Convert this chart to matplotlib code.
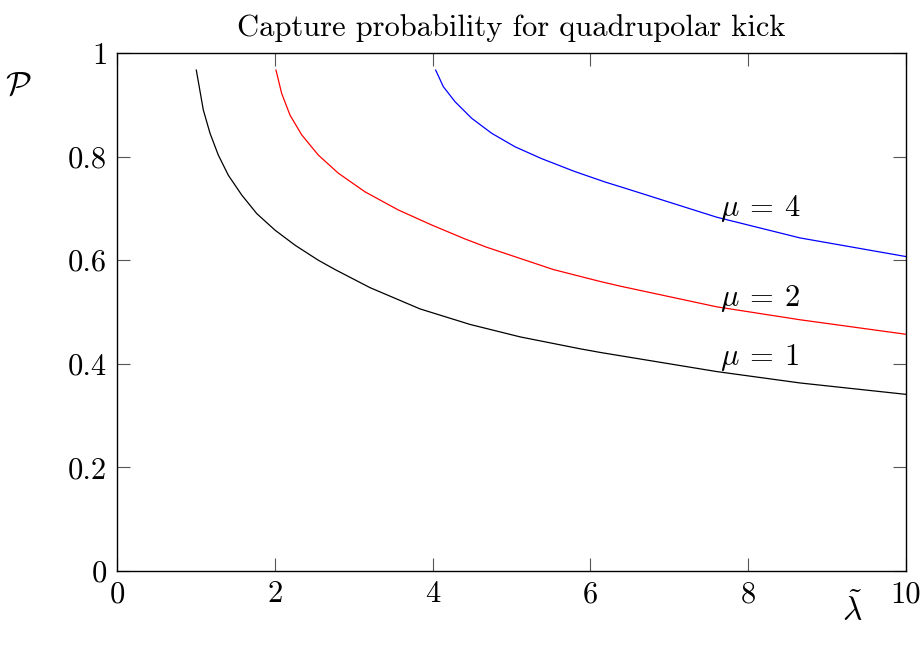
import matplotlib
matplotlib.use("Agg")
import matplotlib.pyplot as plt

# values
lam_mu1 = [1.005, 1.094, 1.179, 1.284, 1.411, 1.580, 1.771, 2.003, 2.256, 2.551, 2.763,
           3.207, 3.840, 4.474, 5.108, 5.868, 6.122, 7.601, 8.657, 10.0]
p_mu1 = [0.967, 0.890, 0.845, 0.803, 0.764, 0.726, 0.690, 0.658, 0.629, 0.600, 0.582,
         0.547, 0.506, 0.476, 0.452, 0.429, 0.422, 0.385, 0.363, 0.341]

lam_mu2 = [2.015, 2.087, 2.193, 2.341, 2.551, 2.805, 3.143, 3.565, 3.988, 4.411, 4.686,
           5.530, 6.122, 6.375, 7.601, 8.657, 10.0]
p_mu2 = [0.967, 0.922, 0.880, 0.842, 0.803, 0.768, 0.732, 0.697, 0.668, 0.641, 0.625,
         0.582, 0.559, 0.550, 0.510, 0.485, 0.457]

lam_mu4 = [4.039, 4.136, 4.284, 4.495, 4.749, 5.044, 5.383, 5.805, 6.185, 6.439, 7.601, 8.657, 10.0]
p_mu4 = [0.967, 0.935, 0.906, 0.874, 0.845, 0.819, 0.796, 0.771, 0.751, 0.739, 0.683, 0.643, 0.607]

xticks = [0, 2, 4, 6, 8, 10]
xtick_labels = ["0", "2", "4", "6", "8", "10"]
yticks = [0, 0.2, 0.4, 0.6, 0.8, 1]
ytick_labels = ["0", "0.2", "0.4", "0.6", "0.8", "1"]

curve_labels = [r"$\mu\:=\:1$", r"$\mu\:=\:2$", r"$\mu\:=\:4$"]
label_pos = [(7.64, 0.413), (7.64, 0.527), (7.64, 0.70)]

plt.rcParams["mathtext.fontset"] = "cm"
plt.rcParams["font.family"] = "cmr10"
plt.rcParams["axes.formatter.use_mathtext"] = True
fs = 22

fig = plt.figure(figsize=(9.24, 6.53), dpi=100)
ax = fig.add_axes([117/924, 1 - 571/653, (906 - 117)/924, (571 - 53)/653])

ax.plot(lam_mu1, p_mu1, color="black", lw=0.9)
ax.plot(lam_mu2, p_mu2, color="red", lw=0.9)
ax.plot(lam_mu4, p_mu4, color="blue", lw=0.9)

for txt, (tx, ty) in zip(curve_labels, label_pos):
    ax.text(tx, ty, txt, fontsize=fs, ha="left", va="center")

ax.set_xlim(0, 10)
ax.set_ylim(0, 1)
ax.set_xticks(xticks)
ax.set_xticklabels(xtick_labels)
ax.set_yticks(yticks)
ax.set_yticklabels(ytick_labels)
ax.tick_params(direction="in", top=True, right=True, length=9.5, width=0.8,
               color="#555555", labelsize=fs, pad=7)
for s in ax.spines.values():
    s.set_linewidth(1.0)

ax.set_title("Capture probability for quadrupolar kick", fontsize=fs, pad=12)
fig.text(18/924, 1 - 86/653, r"$\mathcal{P}$", fontsize=fs + 2, ha="center", va="center")
fig.text(852/924, 1 - 610/653, r"$\tilde{\lambda}$", fontsize=fs + 2, ha="center", va="center")

fig.savefig("out.png", dpi=100)
